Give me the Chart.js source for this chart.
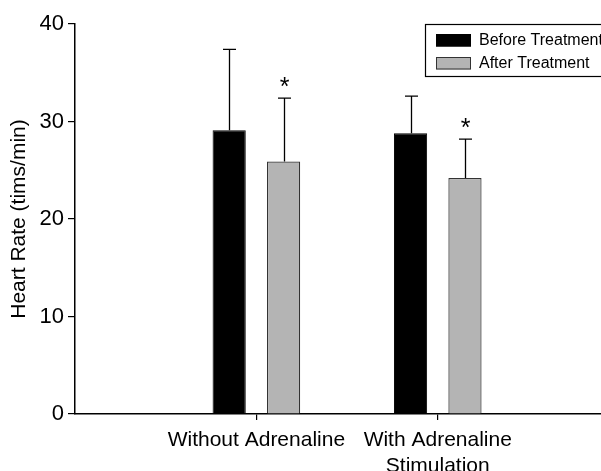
<!DOCTYPE html>
<html>
<head>
<meta charset="utf-8">
<script src="https://cdn.jsdelivr.net/npm/chart.js@4.4.0/dist/chart.umd.min.js"></script>
<style>
  html, body { margin: 0; padding: 0; background: #fff; }
</style>
</head>
<body>
<canvas id="chart" width="601" height="471"></canvas>
<script>
// groups on the x axis (positions 1 and 2)
const groupLabels = ['Without Adrenaline', ['With Adrenaline', 'Stimulation']];
const groupPos = [1, 2];

// heart rate means and upper error (SD)
const beforeMean = [29.1, 28.8];
const beforeErr = [8.3, 3.8];
const afterMean = [25.9, 24.2];
const afterErr = [6.5, 4.0];
const afterSignificant = [true, true];

const yTicks = [0, 10, 20, 30, 40];

const FONT = "'Liberation Sans', Arial, Helvetica, sans-serif";
Chart.defaults.font.family = FONT;
Chart.defaults.color = '#000';

function toPoints(values) {
  return values.map((v, i) => ({ x: groupPos[i], y: v }));
}

// upward error bars + significance stars
const errorBars = {
  id: 'errorBars',
  afterDatasetsDraw(chart) {
    const ctx = chart.ctx;
    const yScale = chart.scales.y;
    chart.data.datasets.forEach((ds, di) => {
      const meta = chart.getDatasetMeta(di);
      meta.data.forEach((bar, i) => {
        const top = yScale.getPixelForValue(ds.data[i].y + ds.errors[i]);
        const x = Math.round(bar.x) + 0.5;
        ctx.save();
        ctx.strokeStyle = '#000';
        ctx.lineWidth = 1.3;
        ctx.beginPath();
        ctx.moveTo(x, bar.y);
        ctx.lineTo(x, top);
        ctx.moveTo(x - 6.5, top);
        ctx.lineTo(x + 6.5, top);
        ctx.stroke();
        if (ds.significant && ds.significant[i]) {
          ctx.fillStyle = '#000';
          ctx.font = '25px ' + FONT;
          ctx.textAlign = 'center';
          ctx.textBaseline = 'alphabetic';
          ctx.fillText('*', x, top - 3);
        }
        ctx.restore();
      });
    });
  }
};

// boxed legend in the top right corner
const boxLegend = {
  id: 'boxLegend',
  afterDraw(chart) {
    const ctx = chart.ctx;
    ctx.save();
    ctx.strokeStyle = '#000';
    ctx.lineWidth = 1.2;
    ctx.strokeRect(425.5, 24.5, 220, 52);
    ctx.font = '16px ' + FONT;
    ctx.textBaseline = 'middle';
    ctx.textAlign = 'left';
    chart.data.datasets.forEach((ds, i) => {
      const y = 34.5 + i * 23;
      ctx.fillStyle = ds.backgroundColor;
      ctx.fillRect(436, y, 35, 12);
      ctx.strokeStyle = ds.borderColor;
      ctx.lineWidth = 1;
      ctx.strokeRect(436.5, y, 34, 11.5);
      ctx.fillStyle = '#000';
      ctx.fillText(ds.label, 479, y + 6.5);
    });
    ctx.restore();
  }
};

new Chart(document.getElementById('chart'), {
  type: 'bar',
  data: {
    datasets: [
      {
        label: 'Before Treatment',
        data: toPoints(beforeMean),
        errors: beforeErr,
        backgroundColor: '#000',
        borderColor: '#000',
        borderWidth: 1
      },
      {
        label: 'After Treatment',
        data: toPoints(afterMean),
        errors: afterErr,
        significant: afterSignificant,
        backgroundColor: '#b4b4b4',
        borderColor: '#333',
        borderWidth: 1.2
      }
    ]
  },
  options: {
    responsive: false,
    animation: false,
    categoryPercentage: 0.6,
    barPercentage: 0.61,
    layout: { padding: { top: 24, right: 0, left: 0, bottom: 0 } },
    plugins: { legend: { display: false }, tooltip: { enabled: false } },
    scales: {
      x: {
        type: 'linear',
        offset: false,
        min: 0,
        max: 2.9,
        afterBuildTicks(scale) {
          scale.ticks = groupPos.map(v => ({ value: v }));
        },
        afterFit(scale) { scale.height = 57; },
        ticks: {
          callback: (v) => groupLabels[groupPos.indexOf(v)],
          font: { size: 21 },
          color: '#000',
          padding: 8,
          maxRotation: 0,
          autoSkip: false
        },
        grid: { offset: false, drawOnChartArea: false, drawTicks: true, tickLength: 6, color: '#000', lineWidth: 1.2 },
        border: { display: true, color: '#000', width: 1.5 }
      },
      y: {
        min: 0,
        max: 40,
        afterBuildTicks(scale) {
          scale.ticks = yTicks.map(v => ({ value: v }));
        },
        afterFit(scale) { scale.width = 75; },
        ticks: { font: { size: 22 }, color: '#000', padding: 4 },
        grid: { drawOnChartArea: false, drawTicks: true, tickLength: 7, color: '#000', lineWidth: 1.2 },
        border: { display: true, color: '#000', width: 1.5 },
        title: {
          display: true,
          text: 'Heart Rate (tims/min)',
          font: { size: 21 },
          color: '#000',
          padding: { top: 7, bottom: 0 }
        }
      }
    }
  },
  plugins: [errorBars, boxLegend]
});
</script>
</body>
</html>
